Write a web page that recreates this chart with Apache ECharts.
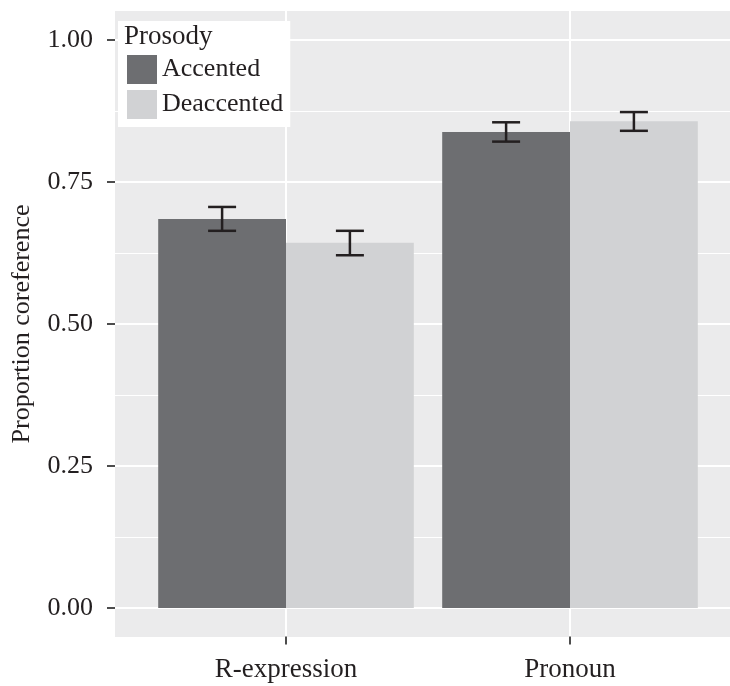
<!DOCTYPE html>
<html>
<head>
<meta charset="utf-8">
<style>
  html, body { margin: 0; padding: 0; background: #fff; }
  #chart { width: 730px; height: 686px; }
</style>
<script src="https://cdn.jsdelivr.net/npm/echarts@6/dist/echarts.min.js"></script>
</head>
<body>
<div id="chart"></div>
<script>
(function(){
  'use strict';

  // data
  const categories = ['R-expression', 'Pronoun'];
  const prosody = ['Accented', 'Deaccented'];
  const accented = [0.685, 0.838];
  const deaccented = [0.643, 0.857];
  const accentedLow = [0.664, 0.821];
  const accentedHigh = [0.706, 0.855];
  const deaccentedLow = [0.621, 0.840];
  const deaccentedHigh = [0.664, 0.873];
  const yTicks = [0, 0.25, 0.5, 0.75, 1];

  const FONT = '"Liberation Serif", "DejaVu Serif", serif';
  const INK = '#231f20';
  const colors = ['#6d6e71', '#d1d2d4'];

  function errData(lo, hi){
    return categories.map((c, i)=>[i, lo[i], hi[i]]);
  }

  function errSeries(name, lo, hi, side){
    return {
      name: name,
      type: 'custom',
      xAxisIndex: 3,
      yAxisIndex: 3,
      z: 5,
      silent: true,
      data: errData(lo, hi),
      renderItem: function(params, api){
        const band = api.size([1, 0])[0];
        const off = side * band * 0.9 / 4;
        const p1 = api.coord([api.value(0), api.value(1)]);
        const p2 = api.coord([api.value(0), api.value(2)]);
        const x = p1[0] + off;
        const half = 14;
        const style = { stroke: INK, lineWidth: 2.5 };
        return {
          type: 'group',
          children: [
            { type: 'line', shape: { x1: x, y1: p1[1], x2: x, y2: p2[1] }, style: style },
            { type: 'line', shape: { x1: x - half, y1: p1[1], x2: x + half, y2: p1[1] }, style: style },
            { type: 'line', shape: { x1: x - half, y1: p2[1], x2: x + half, y2: p2[1] }, style: style }
          ]
        };
      }
    };
  }

  const chart = echarts.init(document.getElementById('chart'));

  chart.setOption({
    animation: false,
    backgroundColor: '#ffffff',
    textStyle: { fontFamily: FONT },
    title: {
      text: 'Prosody',
      left: 124,
      top: 23,
      padding: 0,
      textStyle: { fontFamily: FONT, fontSize: 27, fontWeight: 'normal', color: INK, lineHeight: 28 }
    },
    legend: {
      data: prosody,
      orient: 'vertical',
      left: 118,
      top: 21,
      padding: [34, 7, 8, 9],
      backgroundColor: '#ffffff',
      icon: 'rect',
      itemWidth: 30,
      itemHeight: 29,
      itemGap: 6,
      textStyle: { fontFamily: FONT, fontSize: 26, color: INK },
      selectedMode: false
    },
    grid: [
      // grey panel
      { left: 115, top: 11, width: 625, height: 626, show: true, backgroundColor: '#ebebec', borderWidth: 0, outerBoundsMode: 'none' },
      // vertical gridlines at category centres
      { left: 2, top: 11, width: 852, height: 626, show: false, outerBoundsMode: 'none' },
      // horizontal gridlines + y labels
      { left: 115, top: 40, width: 625, height: 568, show: false, outerBoundsMode: 'none' },
      // bars, x axis at panel bottom
      { left: 144, top: 11.5, width: 568, height: 625, show: false, outerBoundsMode: 'none' }
    ],
    xAxis: [
      { gridIndex: 0, type: 'value', show: false },
      {
        gridIndex: 1, type: 'value', min: 0, max: 3, interval: 1,
        axisLine: { show: false }, axisTick: { show: false }, axisLabel: { show: false },
        splitLine: { show: true, lineStyle: { color: '#ffffff', width: 2 } }
      },
      { gridIndex: 2, type: 'value', show: false, min: 0, max: 1 },
      {
        gridIndex: 3, type: 'category', data: categories, boundaryGap: true,
        position: 'bottom',
        axisLine: { show: false, onZero: false },
        axisTick: { show: true, alignWithLabel: true, length: 8, lineStyle: { color: '#4d4d4d', width: 2 } },
        axisLabel: { fontFamily: FONT, fontSize: 27, color: INK, margin: 20 },
        splitLine: { show: false }
      }
    ],
    yAxis: [
      { gridIndex: 0, type: 'value', show: false },
      { gridIndex: 1, type: 'value', show: false, min: 0, max: 1 },
      {
        gridIndex: 2, type: 'value', min: 0, max: 1, interval: 0.25,
        name: 'Proportion coreference',
        nameLocation: 'middle',
        nameGap: 80,
        nameTextStyle: { fontFamily: FONT, fontSize: 26, color: INK },
        axisLine: { show: false },
        axisTick: { show: true, length: 8, lineStyle: { color: '#4d4d4d', width: 2 } },
        axisLabel: {
          fontFamily: FONT, fontSize: 26, color: INK, margin: 22,
          formatter: (v)=> yTicks.indexOf(v) >= 0 ? v.toFixed(2) : ''
        },
        splitLine: { show: true, lineStyle: { color: '#ffffff', width: 2 } },
        minorTick: { show: false, splitNumber: 2 },
        minorSplitLine: { show: true, lineStyle: { color: '#ffffff', width: 1 } }
      },
      { gridIndex: 3, type: 'value', show: false, min: -0.05, max: 1.05 }
    ],
    series: [
      {
        name: prosody[0], type: 'bar', xAxisIndex: 3, yAxisIndex: 3,
        data: accented, barGap: '0%', barCategoryGap: '10%',
        itemStyle: { color: colors[0] }, z: 3
      },
      {
        name: prosody[1], type: 'bar', xAxisIndex: 3, yAxisIndex: 3,
        data: deaccented, barGap: '0%', barCategoryGap: '10%',
        itemStyle: { color: colors[1] }, z: 3
      },
      errSeries('errA', accentedLow, accentedHigh, -1),
      errSeries('errD', deaccentedLow, deaccentedHigh, 1)
    ]
  });
})();
</script>
</body>
</html>
